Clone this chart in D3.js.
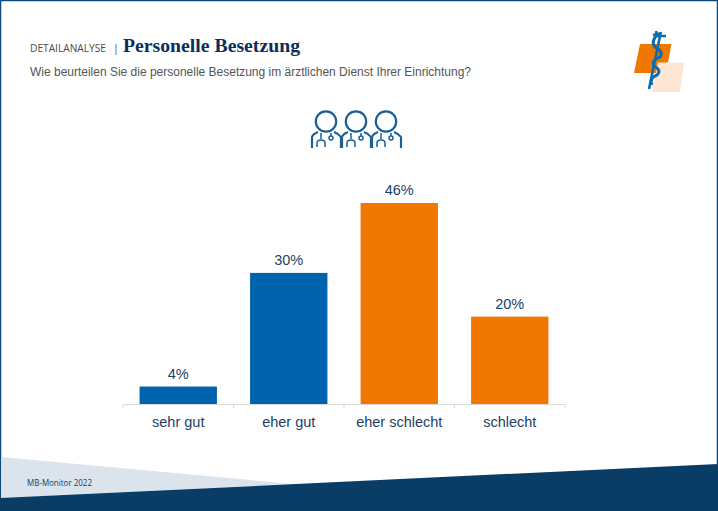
<!DOCTYPE html>
<html>
<head>
<meta charset="utf-8">
<script src="https://cdn.jsdelivr.net/npm/d3@7"></script>
<style>
  html, body { margin: 0; padding: 0; background: #fff; }
  svg { display: block; }
</style>
</head>
<body>
<div id="chart"></div>
<script>
const categories = ["sehr gut", "eher gut", "eher schlecht", "schlecht"];
const shares = [4, 30, 46, 20];
const barColors = ["#0063ae", "#0063ae", "#f07800", "#f07800"];

const width = 718, height = 511;
const navy = "#0a3d66";
const labelColor = "#1d3f66";

const svg = d3.select("#chart").append("svg")
    .attr("width", width)
    .attr("height", height);

// frame
svg.append("rect")
    .attr("x", 0.5).attr("y", 0.5)
    .attr("width", width - 1).attr("height", height - 1)
    .attr("fill", "#fff")
    .attr("stroke", "#0b4a7a")
    .attr("stroke-width", 1.5);

// footer wedges
svg.append("path")
    .attr("d", "M1,457 L293,484 L1,498 Z")
    .attr("fill", "#dbe4ed");
svg.append("path")
    .attr("d", "M0,498 L718,464 L718,511 L0,511 Z")
    .attr("fill", navy);
svg.append("text")
    .attr("x", 27).attr("y", 486)
    .style("font-family", "'Open Sans', sans-serif")
    .style("font-size", "8.5px")
    .attr("fill", navy)
    .attr("textLength", 65)
    .attr("lengthAdjust", "spacingAndGlyphs")
    .text("MB-Monitor 2022");

// header
svg.append("text")
    .attr("x", 30).attr("y", 52)
    .style("font-family", "'Open Sans', sans-serif")
    .style("font-size", "10.5px")
    .attr("fill", "#4a4a4a")
    .attr("textLength", 76)
    .attr("lengthAdjust", "spacingAndGlyphs")
    .text("DETAILANALYSE");
svg.append("text")
    .attr("x", 113).attr("y", 52)
    .style("font-family", "'Open Sans', sans-serif")
    .style("font-size", "10.5px")
    .attr("fill", "#4a4a4a")
    .text("|");
svg.append("text")
    .attr("x", 123).attr("y", 52)
    .style("font-family", "'Liberation Serif', serif")
    .style("font-weight", "bold")
    .style("font-size", "19.5px")
    .attr("fill", "#0b2f5c")
    .attr("textLength", 177)
    .attr("lengthAdjust", "spacingAndGlyphs")
    .text("Personelle Besetzung");
svg.append("text")
    .attr("x", 30).attr("y", 76)
    .style("font-family", "'Liberation Sans', sans-serif")
    .style("font-size", "12px")
    .attr("fill", "#555")
    .attr("textLength", 441)
    .text("Wie beurteilen Sie die personelle Besetzung im ärztlichen Dienst Ihrer Einrichtung?");

// logo
const logo = svg.append("g");
logo.append("path").attr("d", "M640,44 L671.5,44 L666,73 L634,73 Z").attr("fill", "#f07800");
logo.append("path").attr("d", "M658,62.5 L684,62.5 L680,92 L652,92 Z").attr("fill", "#fde6d2");
logo.append("path")
    .attr("d", "M660,36 L649,89")
    .attr("fill", "none").attr("stroke", "#0b6cb0").attr("stroke-width", 2.6);
logo.append("path")
    .attr("d", "M656,36 Q651,42 655,47 Q664,52 660,57 Q651,60 654,66 Q662,70 657,75 Q649,78 652,85")
    .attr("fill", "none").attr("stroke", "#0b6cb0").attr("stroke-width", 3);
logo.append("path")
    .attr("d", "M656,31 L657,36 L666,36 M653,35 L662,33")
    .attr("fill", "none").attr("stroke", "#0b6cb0").attr("stroke-width", 2.6);

// doctors icon
const iconX = [310, 340, 370];
const icons = svg.append("g")
    .attr("fill", "none")
    .attr("stroke", "#1a5f96")
    .attr("stroke-width", 2.2);
iconX.forEach(function (x) {
    let g = icons.append("g").attr("transform", `translate(${x},110)`);
    g.append("circle").attr("cx", 16).attr("cy", 11.5).attr("r", 10.2);
    g.append("path").attr("d", "M2,38 L2,27 Q3,24 8,22 M24,22 Q29,24 31,27 L31,38");
    g.append("path").attr("d", "M11,23 L11,29 M21,23 L21,26").attr("stroke-width", 1.5);
    g.append("circle").attr("cx", 21).attr("cy", 28).attr("r", 2).attr("stroke-width", 1.5);
    g.append("path").attr("d", "M7,37 L7,33 Q7,30 11,30 Q15,30 15,33 L15,37").attr("stroke-width", 1.5);
});

// bars
const x = d3.scaleBand()
    .domain(categories)
    .range([123, 565])
    .paddingInner(0.3)
    .paddingOuter(0.15);
const y = d3.scaleLinear()
    .domain([0, 46])
    .range([404, 203]);

svg.selectAll(".bar")
    .data(shares)
    .enter()
    .append("rect")
    .attr("class", "bar")
    .attr("x", function (d, i) { return x(categories[i]); })
    .attr("y", function (d) { return y(d); })
    .attr("width", x.bandwidth())
    .attr("height", function (d) { return y(0) - y(d); })
    .attr("fill", function (d, i) { return barColors[i]; });

svg.selectAll(".value")
    .data(shares)
    .enter()
    .append("text")
    .attr("class", "value")
    .attr("x", function (d, i) { return x(categories[i]) + x.bandwidth() / 2; })
    .attr("y", function (d) { return y(d) - 8; })
    .style("text-anchor", "middle")
    .style("font-family", "'Liberation Sans', sans-serif")
    .style("font-size", "14.5px")
    .attr("fill", labelColor)
    .text(function (d) { return d + "%"; });

// axis, ticks sit between the categories
let xAxis = svg.append("g")
    .attr("transform", `translate(0,${y(0)})`)
    .call(d3.axisBottom(x).tickSize(0).tickPadding(13));
xAxis.select(".domain").attr("stroke", "#d9d9d9").attr("stroke-width", 1.2);
xAxis.selectAll("text")
    .style("font-family", "'Liberation Sans', sans-serif")
    .style("font-size", "14.5px")
    .attr("fill", labelColor);
xAxis.selectAll(".sep")
    .data(d3.range(categories.length + 1))
    .enter()
    .append("line")
    .attr("class", "sep")
    .attr("x1", function (d) { return 123 + d * x.step(); })
    .attr("x2", function (d) { return 123 + d * x.step(); })
    .attr("y1", 0).attr("y2", 4)
    .attr("stroke", "#d9d9d9");
</script>
</body>
</html>
